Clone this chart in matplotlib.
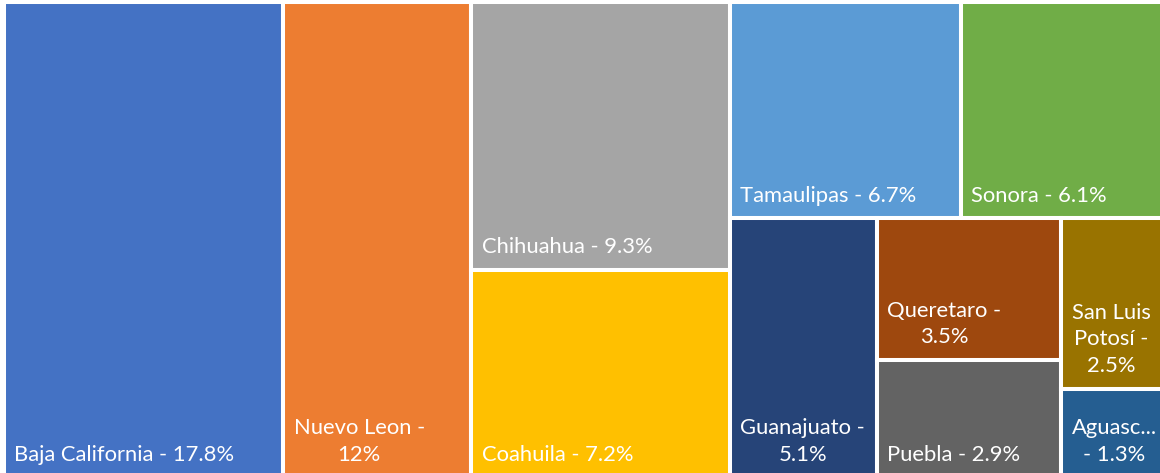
import matplotlib
matplotlib.use("Agg")
import matplotlib.pyplot as plt
from matplotlib.patches import Rectangle

# %% Data

states = ["Baja California", "Nuevo Leon", "Chihuahua", "Coahuila", "Tamaulipas",
          "Sonora", "Guanajuato", "Queretaro", "Puebla", "San Luis Potosí",
          "Aguascalientes"]
shares = [17.8, 12, 9.3, 7.2, 6.7, 6.1, 5.1, 3.5, 2.9, 2.5, 1.3]
labels = ["Baja California - 17.8%", "Nuevo Leon -\n12%", "Chihuahua - 9.3%",
          "Coahuila - 7.2%", "Tamaulipas - 6.7%", "Sonora - 6.1%",
          "Guanajuato -\n5.1%", "Queretaro -\n3.5%", "Puebla - 2.9%",
          "San Luis\nPotosí -\n2.5%", "Aguasc...\n- 1.3%"]
colors = ["#4472C4", "#ED7D31", "#A5A5A5", "#FFC000", "#5B9BD5", "#70AD47",
          "#264478", "#9E480E", "#636363", "#997300", "#255E91"]

# how the tiles are nested: 'h' splits left->right, 'v' splits top->bottom
layout = ("h", [0, 1, ("v", [2, 3]),
                ("v", [("h", [4, 5]),
                       ("h", [6, ("v", [7, 8]), ("v", [9, 10])])])])

# %% Layout

def total(node):
    if isinstance(node, int):
        return shares[node]
    return sum(total(n) for n in node[1])

def place(node, x, y, w, h, out):
    # y is the top edge, going down
    if isinstance(node, int):
        out[node] = (x, y - h, w, h)
        return
    kind, kids = node
    t = total(node)
    for k in kids:
        f = total(k) / t
        if kind == "h":
            place(k, x, y, w * f, h, out)
            x += w * f
        else:
            place(k, x, y, w, h * f, out)
            y -= h * f

rects = {}
tot = total(layout)
place(layout, 0, 1, tot, 1, rects)

# %% Plot

W, H = 1160, 473
fig = plt.figure(figsize=(W / 100, H / 100), dpi=100)
scale = 15.68  # px per percent unit
ax = fig.add_axes([4 / W, -4 / H, tot * scale / W, 475 / H])
ax.set_xlim(0, tot)
ax.set_ylim(0, 1)
ax.axis("off")

for i in range(len(states)):
    x0, y0, w, h = rects[i]
    ax.add_patch(Rectangle((x0, y0), w, h, facecolor=colors[i],
                           edgecolor="white", linewidth=2.9))
    ax.annotate(labels[i], (x0, y0), xytext=(7.5, 9), textcoords="offset points",
                ha="left", va="bottom", multialignment="center",
                color="white", fontsize=15.8, family="Lato", linespacing=1.42)

fig.savefig("out.png", dpi=100)
